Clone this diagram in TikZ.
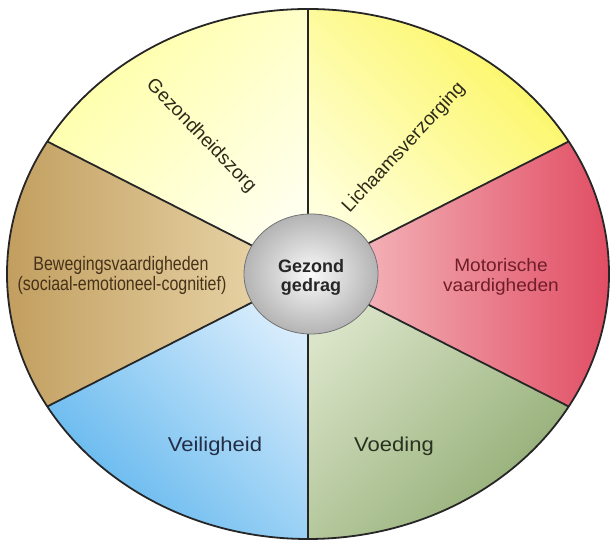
\documentclass[tikz,border=0pt]{standalone}
\usepackage{fontspec}
\setmainfont{Liberation Sans}
\usetikzlibrary{shapes.geometric}
\definecolor{ylA}{RGB}{255,255,165}
\definecolor{ylB}{RGB}{255,255,238}
\definecolor{yrA}{RGB}{252,246,95}
\definecolor{yrB}{RGB}{255,255,220}
\definecolor{rdA}{RGB}{247,200,202}
\definecolor{rdB}{RGB}{224,72,95}
\definecolor{grA}{RGB}{218,228,200}
\definecolor{grB}{RGB}{145,172,115}
\definecolor{blA}{RGB}{215,236,252}
\definecolor{blB}{RGB}{95,182,238}
\definecolor{tnA}{RGB}{192,156,92}
\definecolor{tnB}{RGB}{238,220,178}
\definecolor{hubA}{RGB}{250,250,250}
\definecolor{hubB}{RGB}{180,180,180}
\definecolor{txYel}{RGB}{45,42,25}
\definecolor{txRed}{RGB}{110,30,40}
\definecolor{txGrn}{RGB}{40,50,32}
\definecolor{txBlu}{RGB}{35,45,70}
\definecolor{txTan}{RGB}{70,50,25}
\begin{document}
\begin{tikzpicture}[x=1pt,y=1pt,
  spoke/.style={line width=1.8pt, draw=black!85},
  rim/.style={line width=1.8pt, draw=black!85},
  lbl/.style={inner sep=0pt, font=\fontsize{18}{21}\selectfont},
  rotlbl/.style={inner sep=0pt, font=\fontsize{19}{22}\selectfont},
  tallbl/.style={inner sep=0pt, font=\fontsize{19.5}{22}\selectfont},
  biglbl/.style={inner sep=0pt, font=\fontsize{20}{23}\selectfont},
  hubtxt/.style={inner sep=0pt, font=\fontsize{18}{20}\selectfont\bfseries, text=black!85}]
\useasboundingbox[fill=white] (0,0) rectangle (611,540);
\begin{scope}[shift={(308,266)}]
  \shade[top color=ylA, bottom color=ylB, shading angle=45]
    (0,0) -- (90:301pt and 265pt) arc[start angle=90, end angle=150, x radius=301pt, y radius=265pt] -- cycle;
  \shade[top color=yrA, bottom color=yrB, shading angle=-45]
    (0,0) -- (30:301pt and 265pt) arc[start angle=30, end angle=90, x radius=301pt, y radius=265pt] -- cycle;
  \shade[left color=rdA, right color=rdB]
    (0,0) -- (-30:301pt and 265pt) arc[start angle=-30, end angle=30, x radius=301pt, y radius=265pt] -- cycle;
  \shade[top color=grA, bottom color=grB, shading angle=45]
    (0,0) -- (270:301pt and 265pt) arc[start angle=270, end angle=330, x radius=301pt, y radius=265pt] -- cycle;
  \shade[top color=blA, bottom color=blB, shading angle=-45]
    (0,0) -- (210:301pt and 265pt) arc[start angle=210, end angle=270, x radius=301pt, y radius=265pt] -- cycle;
  \shade[left color=tnA, right color=tnB]
    (0,0) -- (150:301pt and 265pt) arc[start angle=150, end angle=210, x radius=301pt, y radius=265pt] -- cycle;
  \foreach \t in {30,90,150,210,270,330}
    \draw[spoke] (0,0) -- (\t:301pt and 265pt);
  \draw[rim] (0,0) ellipse[x radius=301pt, y radius=265pt];
\end{scope}
\node (hub) [ellipse, minimum width=134pt, minimum height=120pt, draw=black!55, line width=0.8pt,
  inner color=hubA, outer color=hubB] at (311,266) {};
\node (hubA) [hubtxt, anchor=base] at (311,267) {Gezond};
\node (hubB) [hubtxt, anchor=base] at (311,248) {gedrag};
\node (zorg) [rotlbl, text=txYel, rotate=-46] at (201,404) {Gezondheidszorg};
\node (verz) [rotlbl, text=txYel, rotate=47] at (404,392) {Lichaamsverzorging};
\node (motA) [lbl, text=txRed, anchor=base, xscale=1.06] at (501,268) {Motorische};
\node (motB) [lbl, text=txRed, anchor=base, xscale=1.06] at (501,248) {vaardigheden};
\node (bewA) [tallbl, text=txTan, anchor=base, xscale=0.82] at (121,269) {Bewegingsvaardigheden};
\node (bewB) [tallbl, text=txTan, anchor=base, xscale=0.82] at (122,249) {(sociaal-emotioneel-cognitief)};
\node (veil) [biglbl, text=txBlu, anchor=base, xscale=1.1] at (215,88) {Veiligheid};
\node (voed) [biglbl, text=txGrn, anchor=base, xscale=1.1] at (394,88) {Voeding};
\end{tikzpicture}
\end{document}
